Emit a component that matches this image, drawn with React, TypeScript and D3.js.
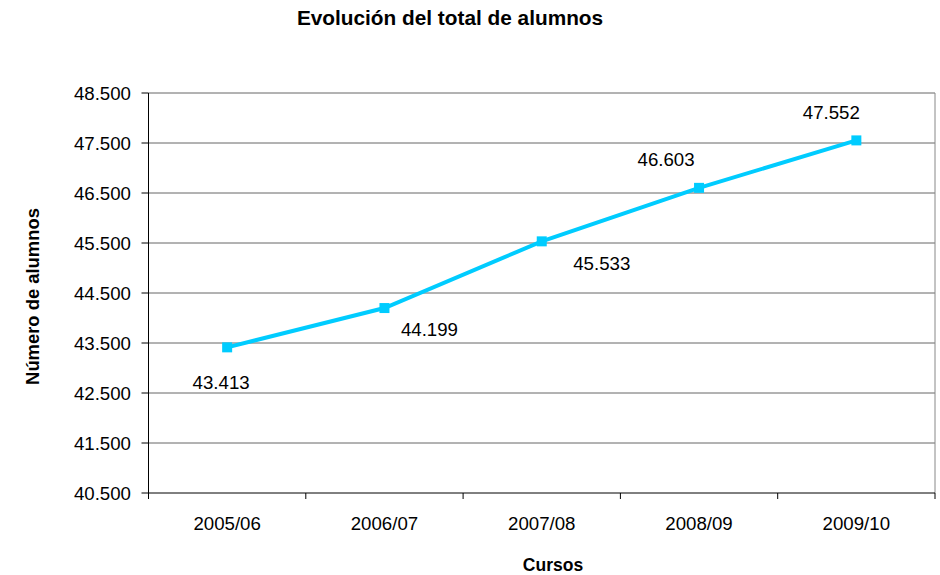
import React from "react";
import * as d3 from "d3";

const categories = ["2005/06", "2006/07", "2007/08", "2008/09", "2009/10"];
const values = [43413, 44199, 45533, 46603, 47552];
const yTicks = [40500, 41500, 42500, 43500, 44500, 45500, 46500, 47500, 48500];
// label offsets relative to the point (styling)
const labelDx = [-6, 45, 60, -33, -25];
const labelDy = [35, 21, 22, -29, -28];

const fmt = (v: number) => {
  const s = String(v);
  return s.slice(0, s.length - 3) + "." + s.slice(s.length - 3);
};

export default function App() {
  const W = 940, H = 575;
  const left = 148.5, right = 935, top = 93, bottom = 493;
  const x = d3.scaleBand<string>().domain(categories).range([left, right]);
  const y = d3.scaleLinear().domain([40500, 48500]).range([bottom, top]);
  const line = d3
    .line<number>()
    .x((_, i) => (x(categories[i]) as number) + x.bandwidth() / 2)
    .y((d) => y(d));
  const font = "Liberation Sans, Arial, sans-serif";
  const fs = 18.67;
  const boundaries = [...categories.map((c) => x(c) as number), right];
  return (
    <svg width={W} height={H} style={{ position: "absolute", left: 0, top: 0 }} fontFamily={font}>
      <rect width={W} height={H} fill="#fff" />
      <text x={450} y={25} textAnchor="middle" fontWeight="bold" fontSize={20.8}>
        Evolución del total de alumnos
      </text>
      {yTicks.map((t) => (
        <g key={t}>
          {t > 40500 && (
            <line x1={left} x2={right} y1={y(t)} y2={y(t)} stroke="#666" strokeWidth={1} />
          )}
          <line x1={left - 7} x2={left} y1={y(t)} y2={y(t)} stroke="#000" />
          <text x={131} y={y(t)} dy="0.38em" textAnchor="end" fontSize={fs}>
            {fmt(t)}
          </text>
        </g>
      ))}
      <line x1={right} x2={right} y1={top} y2={bottom} stroke="#888" />
      <line x1={left} x2={left} y1={top} y2={bottom} stroke="#000" />
      <line x1={left} x2={right} y1={bottom} y2={bottom} stroke="#000" />
      {boundaries.map((b, i) => (
        <line key={i} x1={b} x2={b} y1={bottom} y2={bottom + 6} stroke="#000" />
      ))}
      {categories.map((c) => (
        <text key={c} x={(x(c) as number) + x.bandwidth() / 2} y={530} textAnchor="middle" fontSize={fs}>
          {c}
        </text>
      ))}
      <path d={line(values) || ""} fill="none" stroke="#00CCFF" strokeWidth={4} />
      {values.map((v, i) => {
        const cx = (x(categories[i]) as number) + x.bandwidth() / 2;
        const cy = y(v);
        return (
          <g key={i}>
            <rect x={cx - 5} y={cy - 5} width={10} height={10} fill="#00CCFF" />
            <text x={cx + labelDx[i]} y={cy + labelDy[i]} dy="0.36em" textAnchor="middle" fontSize={fs}>
              {fmt(v)}
            </text>
          </g>
        );
      })}
      <text x={553} y={571} textAnchor="middle" fontWeight="bold" fontSize={17.5}>
        Cursos
      </text>
      <text
        transform={`translate(38.5,296.5) rotate(-90)`}
        textAnchor="middle"
        fontWeight="bold"
        fontSize={18.4}
      >
        Número de alumnos
      </text>
    </svg>
  );
}
